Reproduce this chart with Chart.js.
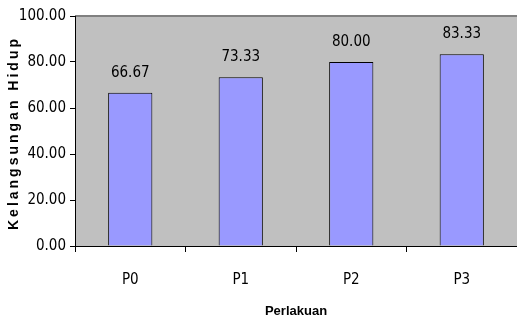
<!DOCTYPE html>
<html>
<head>
<meta charset="utf-8">
<script src="https://cdn.jsdelivr.net/npm/chart.js@4/dist/chart.umd.min.js"></script>
<style>
  body { margin: 0; background: #fff; }
</style>
</head>
<body>
<canvas id="grafik" width="517" height="317"></canvas>
<script>
const kategori = ['P0', 'P1', 'P2', 'P3'];
const nilaiHidup = [66.67, 73.33, 80.00, 83.33];
const tickY = [0, 20, 40, 60, 80, 100];

const fonteNarrow = "'Liberation Sans Narrow', 'Arial Narrow', 'DejaVu Sans Condensed', sans-serif";

// fundo cinza da área do gráfico + borda superior
const fundoPlot = {
  id: 'fundoPlot',
  beforeDraw(chart) {
    const { ctx, chartArea: a } = chart;
    ctx.save();
    ctx.fillStyle = '#c0c0c0';
    ctx.fillRect(a.left, a.top, a.right - a.left, a.bottom - a.top);
    ctx.strokeStyle = '#808080';
    ctx.lineWidth = 2;
    ctx.beginPath();
    ctx.moveTo(a.left, a.top);
    ctx.lineTo(a.right, a.top);
    ctx.stroke();
    ctx.restore();
  }
};

// rótulos de valor acima das barras e títulos dos eixos
const rotulos = {
  id: 'rotulos',
  afterDraw(chart) {
    const { ctx, chartArea: a } = chart;
    const meta = chart.getDatasetMeta(0);
    ctx.save();
    ctx.fillStyle = '#000';
    ctx.font = '15px ' + fonteNarrow;
    ctx.textAlign = 'center';
    ctx.textBaseline = 'middle';
    meta.data.forEach((bar, i) => {
      ctx.fillText(nilaiHidup[i].toFixed(2), bar.x, bar.y - 20);
    });

    ctx.font = 'bold 14px "Liberation Sans", Arial, sans-serif';
    ctx.letterSpacing = '3px';
    ctx.translate(14, (a.top + a.bottom) / 2 + 2);
    ctx.rotate(-Math.PI / 2);
    ctx.fillText('Kelangsungan Hidup', 0, 0);
    ctx.restore();

    ctx.save();
    ctx.fillStyle = '#000';
    ctx.font = 'bold 13px "Liberation Sans", Arial, sans-serif';
    ctx.textAlign = 'center';
    ctx.textBaseline = 'middle';
    ctx.fillText('Perlakuan', (a.left + a.right) / 2, 311);
    ctx.restore();
  }
};

new Chart(document.getElementById('grafik'), {
  type: 'bar',
  data: {
    labels: kategori,
    datasets: [{
      label: 'Kelangsungan Hidup',
      data: nilaiHidup,
      backgroundColor: '#9999ff',
      borderColor: '#000',
      borderWidth: 1,
      categoryPercentage: 1.0,
      barPercentage: 0.4
    }]
  },
  options: {
    responsive: false,
    animation: false,
    layout: { padding: { top: 16, right: 0, left: 0, bottom: 0 } },
    plugins: { legend: { display: false }, tooltip: { enabled: false } },
    scales: {
      x: {
        afterFit(scale) { scale.height = 71; },
        grid: { offset: true, drawOnChartArea: false, tickLength: 6, color: '#000' },
        border: { color: '#000', width: 1 },
        ticks: { color: '#000', font: { family: fonteNarrow, size: 15 }, padding: 19 }
      },
      y: {
        min: 0,
        max: 100,
        afterFit(scale) { scale.width = 75; },
        afterBuildTicks(scale) { scale.ticks = tickY.map(v => ({ value: v })); },
        grid: { drawOnChartArea: false, tickLength: 5, color: '#000' },
        border: { color: '#000', width: 1 },
        ticks: {
          color: '#000',
          font: { family: fonteNarrow, size: 15 },
          padding: 4,
          callback: v => v.toFixed(2)
        }
      }
    }
  },
  plugins: [fundoPlot, rotulos]
});
</script>
</body>
</html>
